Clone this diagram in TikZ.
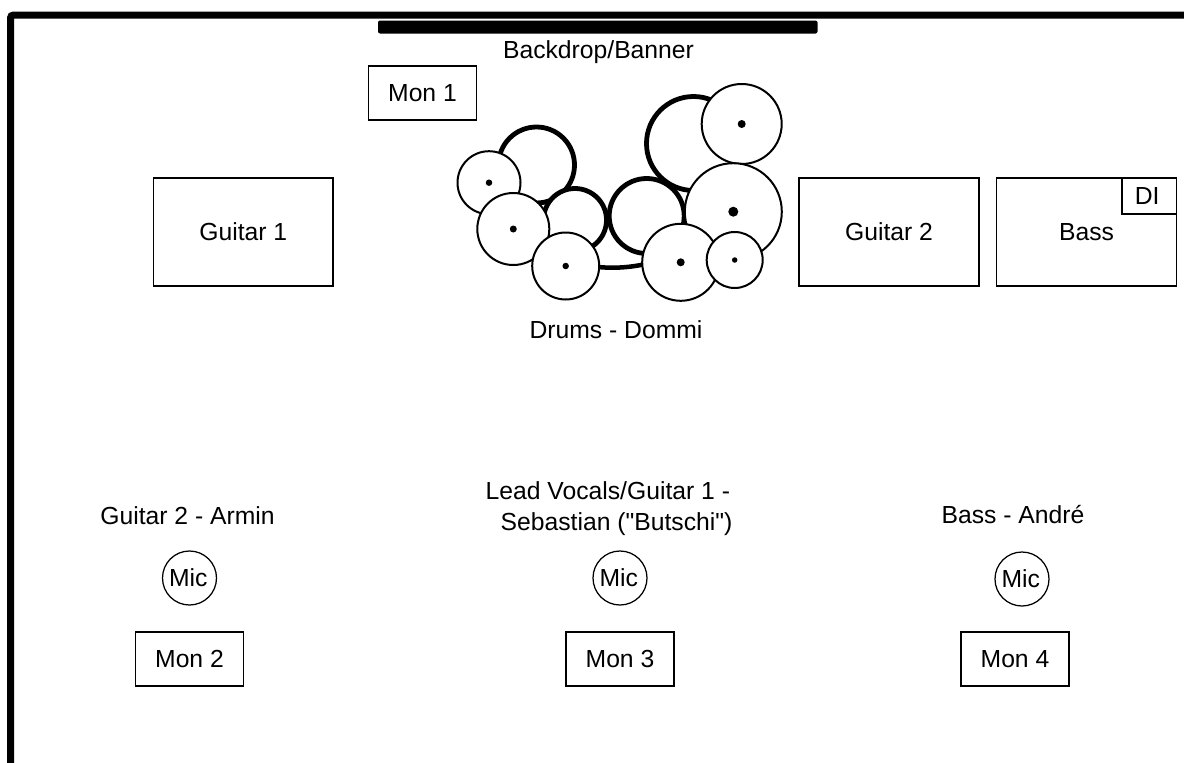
\documentclass[tikz,border=0pt]{standalone}
\usepackage{fontspec}
\setmainfont{Liberation Sans}
\newfontfamily\rawfont{Liberation Sans}
\tikzset{
  x=1pt,y=-1pt,
  box/.style={draw=black,line width=1.25pt,fill=white,inner sep=0pt,text=black},
  label/.style={inner sep=0pt,align=center,text=black},
  thickring/.style={circle,draw=black,line width=4.8pt,fill=white,inner sep=0pt},
  thinring/.style={circle,draw=black,line width=2pt,fill=white,inner sep=0pt},
  dot/.style={circle,fill=black,inner sep=0pt},
  micring/.style={circle,draw=black,line width=1.25pt,fill=white,inner sep=0pt,minimum size=54pt,text=black},
}
\newcommand{\rectnode}[6]{\node[box,minimum width=#3 pt - #1 pt,minimum height=#4 pt - #2 pt] (#5) at ({(#1+#3)/2},{(#2+#4)/2}) {\raisebox{-0.7pt}{#6}};}
\newcommand{\ringnode}[5]{\node[#5,minimum size=2*#4 pt] (#1) at (#2,#3) {};}
\newcommand{\dotnode}[4]{\node[dot,minimum size=#4 pt] (#1) at (#2,#3) {};}
\begin{document}
\begin{tikzpicture}[font=\fontsize{24.7}{29}\selectfont]
\useasboundingbox (0,0) rectangle (1184,763);
\fill[white] (0,0) rectangle (1184,763);
\clip (0,0) rectangle (1184,763);
% stage outline
\draw[line width=7pt,rounded corners=3pt] (10.5,790) -- (10.5,15) -- (1210,15);
% banner
\fill[black,rounded corners=2pt] (378,20.5) rectangle (817.5,33.5);
\node[label] (bannerlabel) at (598.5,52.5) {Backdrop/Banner};
\rectnode{368.5}{66}{476.5}{120}{mon1}{Mon 1}
\rectnode{153.5}{178}{333}{286}{guitar1}{Guitar 1}
\rectnode{799}{178}{979}{286}{guitar2}{Guitar 2}
\rectnode{996.5}{178}{1176.5}{286}{bass}{Bass}
\rectnode{1122}{178}{1176.5}{214}{di}{\hspace*{-4pt}DI}
% drums
\draw[line width=4.5pt] (590,266) .. controls (610,269) and (630,268) .. (650,263);
\ringnode{d}{693.5}{143.5}{47}{thickring}
\ringnode{a}{536.5}{165}{38}{thickring}
\ringnode{b}{575}{220}{31.5}{thickring}
\ringnode{c}{646.7}{216}{37.5}{thickring}
\ringnode{e}{741.7}{124}{40}{thinring}
\ringnode{f}{733.3}{211.7}{48.5}{thinring}
\ringnode{k}{489}{182.7}{31.5}{thinring}
\ringnode{j}{513.3}{229}{36}{thinring}
\ringnode{i}{565.7}{266}{33.5}{thinring}
\ringnode{g}{680.7}{262.3}{38.5}{thinring}
\ringnode{h}{734.7}{260}{28}{thinring}
\dotnode{de}{741.7}{124}{8}
\dotnode{df}{733.3}{211.7}{10}
\dotnode{dk}{489}{182.7}{6.5}
\dotnode{dj}{513.3}{229}{7}
\dotnode{di2}{565.7}{266}{6.5}
\dotnode{dg}{680.7}{262.3}{8}
\dotnode{dh}{734.7}{260}{5.5}
\node[label] (drumslabel) at (616,330) {Drums - Dommi};
% front line
\node[label] (arminlabel) at (187.5,516) {Guitar 2 - Armin};
\node[label,align=left] (sebastianlabel) at (609,508.5) {Lead Vocals/Guitar 1 -\\[2pt]\hspace*{15pt}{\rawfont Sebastian ("Butschi")}};
\node[label] (andrelabel) at (1013,515) {Bass - André};
\node[micring] (mic2) at (189.5,578) {\hspace*{-2.5pt}Mic};
\node[micring] (mic3) at (620,578) {\hspace*{-2.5pt}Mic};
\node[micring] (mic4) at (1022,579) {\hspace*{-2.5pt}Mic};
\rectnode{135.5}{632}{243.5}{686}{mon2}{Mon 2}
\rectnode{566}{632}{674}{686}{mon3}{Mon 3}
\rectnode{961}{632}{1069}{686}{mon4}{Mon 4}
\end{tikzpicture}
\end{document}
